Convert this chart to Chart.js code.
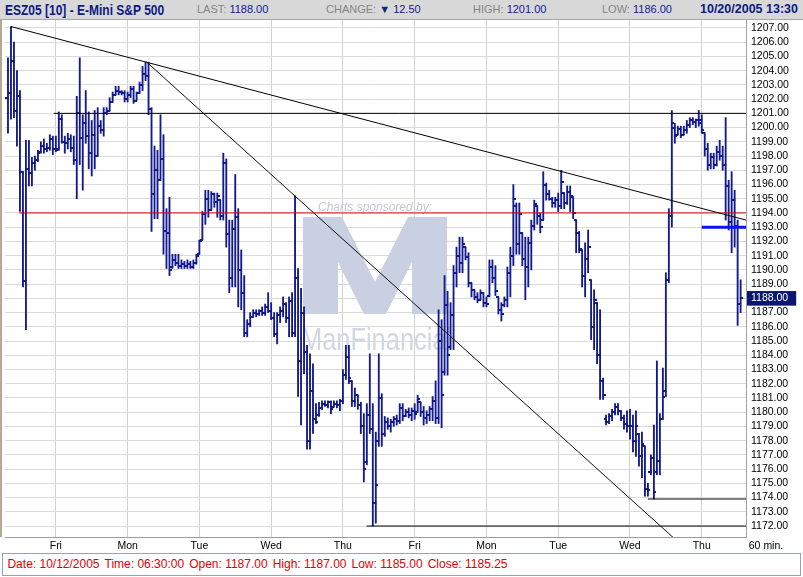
<!DOCTYPE html>
<html>
<head>
<meta charset="utf-8">
<script src="https://cdn.jsdelivr.net/npm/chart.js@4.4.0/dist/chart.umd.min.js"></script>
<style>
  html, body { margin: 0; padding: 0; background: #fff; }
  #wrap { position: relative; width: 803px; height: 577px; overflow: hidden; font-family: "Liberation Sans", Arial, sans-serif; }
  #c { position: absolute; left: 0; top: 0; }
  #hdr { position: absolute; left: 0; top: 0; width: 803px; height: 19px; background: #d8d8d8; border-bottom: 1px solid #a6a6a6; }
  #hdr span { position: absolute; top: 0; line-height: 19px; white-space: nowrap; font-size: 11px; }
  #hdr .ttl { font-size: 15px; font-weight: bold; color: #0c1a80; transform: scaleX(0.8); transform-origin: 0 50%; }
  #hdr .lbl { color: #858585; }
  #hdr .val { color: #14208a; }
  #hdr .dt { font-size: 12.5px; font-weight: bold; color: #0c1a80; }
  #lborder { position: absolute; left: 0; top: 20px; width: 2px; height: 517px; background: #b4aa94; }
  #mins { position: absolute; left: 745px; top: 539px; width: 42px; text-align: center; font-size: 10.5px; white-space: nowrap; }
  #foot { position: absolute; left: 2px; top: 553px; width: 797px; height: 21px; border: 1px solid #8fa3c2; background: #fff; }
  #foot span { color: #e30000; font-size: 12px; line-height: 21px; margin-right: 5px; }
</style>
</head>
<body>
<div id="wrap">
  <canvas id="c" width="803" height="577"></canvas>
  <div id="hdr">
    <span class="ttl" style="left:5px">ESZ05 [10] - E-Mini S&amp;P 500</span>
    <span style="left:197px"><span class="lbl" style="position:static">LAST: </span><span class="val" style="position:static">1188.00</span></span>
    <span style="left:326px"><span class="lbl" style="position:static">CHANGE: </span><span class="val" style="position:static">&#9660; 12.50</span></span>
    <span style="left:473px"><span class="lbl" style="position:static">HIGH: </span><span class="val" style="position:static">1201.00</span></span>
    <span style="left:602px"><span class="lbl" style="position:static">LOW: </span><span class="val" style="position:static">1186.00</span></span>
    <span class="dt" style="right:5px">10/20/2005 13:30</span>
  </div>
  <div id="lborder"></div>
  <div id="mins">60 min.</div>
  <div id="foot">&nbsp;<span>Date: 10/12/2005</span><span>Time: 06:30:00</span><span>Open: 1187.00</span><span>High: 1187.00</span><span>Low: 1185.00</span><span>Close: 1185.25</span></div>
</div>
<script>
// hourly bars, 10/6 (partial) .. 10/20 13:30
const dayLabels = ['Fri', 'Mon', 'Tue', 'Wed', 'Thu', 'Fri', 'Mon', 'Tue', 'Wed', 'Thu'];
const dayFirstBar = 16;
const barsPerDay = 24;

const opens = [
  1202.1,1202.4,1204.7,1201.2,1202.2,1196.9,1189.2,1197.1,1196.8,1197.5,1197.7,1198.3,1198.7,1198.5,1198.6,1199.2,
  1198.5,1198.5,1200.6,1199.0,1198.9,1199.2,1198.6,1197.7,1201.0,1199.3,1200.3,1199.4,1198.2,1199.5,1198.0,1200.1,1199.8,1201.0,1201.2,1201.8,1202.3,1202.6,1202.5,1202.4,
  1202.0,1202.3,1202.7,1201.9,1202.4,1203.0,1203.8,1203.6,1201.3,1195.3,1197.0,1196.3,1197.8,1192.7,1192.6,1190.2,1190.7,1190.5,1190.3,1190.4,1190.3,1190.4,1190.2,1190.5,
  1191.1,1192.1,1193.9,1195.0,1194.2,1195.3,1194.8,1194.9,1193.8,1197.5,1192.5,1189.4,1192.9,1193.7,1190.0,1188.4,1185.6,1186.2,1186.7,1187.0,1186.9,1187.1,1187.0,1187.4,
  1187.1,1186.6,1185.5,1186.8,1187.1,1187.6,1186.6,1187.8,1185.6,1189.4,1183.6,1187.0,1184.2,1178.0,1181.5,1179.5,1179.8,1180.3,1180.6,1180.5,1180.7,1180.4,1180.6,1180.5,
  1180.8,1182.6,1183.9,1182.2,1180.8,1181.2,1180.5,1179.0,1176.5,1179.8,1178.8,1173.6,1178.0,1181.0,1178.5,1179.3,1179.0,1179.3,1179.5,1179.4,1180.3,1179.7,1180.0,1179.8,
  1180.1,1180.0,1180.7,1180.0,1179.6,1179.8,1180.2,1180.8,1179.6,1185.0,1182.8,1187.5,1184.6,1186.8,1189.8,1191.0,1190.5,1191.6,1190.9,1189.1,1188.6,1188.1,1187.9,1188.4,
  1187.7,1188.2,1190.2,1189.4,1188.1,1187.2,1187.5,1187.9,1189.8,1191.0,1194.5,1191.8,1192.6,1190.8,1190.2,1191.9,1193.1,1194.5,1193.8,1193.5,1196.0,1195.3,1195.0,1194.7,
  1194.9,1194.5,1195.4,1194.7,1195.5,1195.1,1193.5,1192.6,1191.4,1189.6,1190.8,1189.3,1186.0,1187.7,1184.0,1182.2,1179.5,1179.3,1179.7,1180.0,1180.4,1180.1,1179.6,1179.2,
  1179.0,1179.0,1178.0,1178.5,1176.9,1177.6,1174.6,1175.8,1176.8,1175.8,1176.6,1179.5,1181.5,1189.3,1193.8,1200.0,1199.5,1199.9,1199.5,1199.8,1200.2,1200.5,1200.4,1200.5,
  1200.5,1199.6,1198.5,1197.4,1197.9,1197.4,1198.3,1198.0,1197.4,1195.9,1193.4,1194.9,1193.1,1187.6
];
const highs = [
  1204.9,1207.1,1206.0,1204.0,1202.6,1196.9,1199.1,1199.1,1197.9,1198.0,1198.4,1199.0,1199.2,1198.9,1199.5,1199.4,
  1199.4,1201.1,1200.9,1199.4,1199.6,1199.5,1199.4,1202.2,1204.9,1200.9,1202.6,1201.1,1200.5,1201.2,1201.4,1200.5,1201.4,1201.4,1202.1,1202.5,1202.9,1202.9,1202.6,1202.6,
  1202.5,1202.9,1202.9,1202.5,1203.2,1204.3,1204.6,1204.6,1201.4,1198.7,1198.4,1200.9,1199.5,1194.3,1195.1,1191.1,1191.1,1191.1,1190.7,1190.6,1190.7,1190.6,1190.7,1191.1,
  1192.1,1194.1,1195.6,1195.6,1195.5,1195.4,1195.4,1194.9,1198.2,1197.8,1193.5,1193.5,1196.7,1194.3,1191.4,1189.6,1186.5,1187.0,1187.2,1187.2,1187.2,1187.4,1187.6,1188.4,
  1187.7,1187.0,1187.0,1187.4,1188.1,1187.7,1188.1,1188.4,1195.2,1190.1,1188.7,1187.4,1184.7,1184.1,1183.4,1180.6,1180.7,1180.8,1180.8,1180.8,1180.8,1180.8,1180.8,1180.9,
  1183.0,1184.7,1184.7,1182.2,1181.7,1181.2,1180.7,1179.9,1180.6,1184.1,1180.6,1178.6,1184.1,1181.3,1179.7,1179.6,1179.5,1179.7,1179.8,1180.6,1180.6,1180.2,1180.3,1180.3,
  1180.6,1181.2,1180.7,1180.4,1180.1,1180.4,1181.1,1182.2,1187.2,1186.5,1189.6,1188.5,1187.7,1190.3,1191.6,1192.3,1192.3,1191.6,1191.2,1189.1,1188.6,1188.4,1188.6,1188.4,
  1188.1,1190.7,1190.7,1190.3,1188.1,1187.7,1188.1,1190.2,1191.6,1196.0,1194.7,1194.7,1192.6,1192.3,1192.3,1193.5,1194.9,1194.5,1194.0,1196.9,1196.1,1195.6,1195.1,1195.1,
  1195.4,1197.0,1195.4,1195.9,1195.9,1195.1,1193.5,1192.7,1191.4,1191.9,1192.8,1189.3,1188.6,1187.7,1187.2,1182.4,1179.8,1179.9,1180.2,1180.6,1180.6,1180.1,1179.8,1180.1,
  1180.2,1179.8,1180.1,1178.5,1178.6,1177.6,1175.0,1177.0,1179.1,1183.6,1179.9,1183.1,1189.8,1194.3,1201.2,1200.3,1200.1,1200.1,1200.1,1200.5,1200.7,1200.7,1200.6,1201.2,
  1200.9,1199.6,1198.9,1198.2,1198.2,1198.7,1199.1,1198.7,1200.7,1196.3,1196.9,1195.6,1193.5,1189.3
];
const lows = [
  1199.6,1200.6,1200.7,1198.7,1194.1,1188.8,1185.8,1195.9,1195.9,1197.0,1197.6,1198.2,1198.2,1198.3,1198.4,1198.1,
  1198.3,1198.4,1198.9,1198.2,1198.5,1198.3,1197.4,1195.0,1197.4,1195.6,1198.9,1197.1,1196.6,1197.1,1198.0,1199.6,1199.4,1200.9,1201.2,1201.8,1202.3,1202.3,1202.3,1201.8,
  1201.8,1202.1,1201.7,1201.9,1202.4,1202.6,1203.3,1200.9,1192.7,1193.6,1193.6,1196.3,1191.1,1190.1,1189.6,1190.1,1190.3,1190.1,1190.1,1190.1,1190.1,1190.1,1190.1,1190.4,
  1191.1,1192.1,1193.2,1193.7,1194.2,1194.4,1193.7,1193.5,1193.5,1191.6,1188.4,1188.8,1188.8,1187.4,1187.2,1185.3,1185.3,1186.0,1186.7,1186.7,1186.8,1186.8,1186.8,1187.0,
  1186.5,1185.3,1184.8,1186.3,1186.7,1186.3,1185.3,1185.3,1185.3,1181.1,1179.1,1182.7,1177.4,1177.4,1178.5,1179.2,1179.7,1180.2,1180.4,1180.3,1179.9,1180.4,1180.3,1180.1,
  1180.6,1182.3,1182.0,1180.4,1180.4,1180.2,1178.5,1175.1,1176.3,1178.5,1172.0,1172.2,1177.6,1177.6,1178.3,1178.8,1178.6,1179.0,1179.1,1179.2,1179.4,1179.7,1179.6,1179.4,
  1179.5,1180.0,1179.7,1179.1,1179.2,1179.4,1179.4,1179.2,1179.2,1178.9,1182.6,1182.6,1184.4,1184.4,1188.8,1189.8,1189.8,1190.7,1188.8,1188.1,1187.9,1187.7,1187.9,1187.4,
  1187.4,1188.1,1189.1,1188.2,1186.9,1186.4,1187.4,1187.4,1188.1,1190.3,1191.1,1191.1,1190.3,1187.9,1188.8,1190.0,1192.8,1193.2,1192.6,1193.5,1194.9,1194.9,1194.4,1194.4,
  1194.1,1194.3,1194.3,1194.6,1194.1,1193.6,1191.2,1191.2,1188.8,1188.1,1189.8,1185.1,1184.4,1183.4,1180.9,1180.9,1179.1,1179.2,1179.4,1179.8,1179.8,1179.4,1178.8,1178.6,
  1178.1,1177.2,1176.9,1176.2,1175.4,1174.1,1174.1,1175.6,1173.9,1175.6,1175.6,1179.5,1181.1,1189.1,1193.0,1198.9,1199.5,1199.3,1199.5,1199.6,1200.0,1200.2,1200.0,1200.1,
  1199.6,1198.0,1197.0,1197.1,1197.1,1197.3,1197.7,1197.0,1193.5,1192.8,1191.2,1191.6,1186.1,1187.0
];
const closes = [
  1202.4,1204.7,1201.2,1202.2,1196.9,1189.2,1197.1,1196.8,1197.5,1197.7,1198.2,1198.7,1198.5,1198.6,1199.2,1198.5,
  1198.4,1200.6,1199.0,1198.9,1199.2,1198.6,1197.7,1201.0,1199.3,1200.3,1199.4,1198.2,1199.5,1198.0,1200.1,1199.8,1201.0,1201.2,1201.8,1202.3,1202.6,1202.5,1202.4,1202.0,
  1202.3,1202.7,1201.9,1202.4,1203.0,1203.8,1203.6,1201.3,1195.3,1197.0,1196.3,1197.8,1192.7,1192.6,1190.0,1190.7,1190.5,1190.3,1190.4,1190.3,1190.4,1190.2,1190.5,1191.0,
  1192.0,1193.9,1195.0,1194.2,1195.3,1194.8,1195.2,1193.8,1197.5,1192.5,1189.4,1192.9,1193.7,1190.0,1188.4,1185.6,1186.2,1186.7,1187.0,1186.9,1187.1,1187.0,1187.4,1187.1,
  1186.6,1185.5,1186.8,1187.1,1187.6,1186.6,1187.8,1185.6,1189.4,1183.6,1187.0,1184.2,1178.0,1181.5,1179.5,1179.3,1180.3,1180.6,1180.5,1180.7,1180.2,1180.6,1180.5,1180.8,
  1182.6,1183.9,1182.4,1180.8,1181.2,1180.5,1179.0,1176.0,1179.8,1178.8,1173.6,1174.9,1181.0,1178.5,1179.3,1179.0,1179.3,1179.5,1179.4,1180.3,1179.7,1180.0,1179.8,1180.1,
  1179.9,1180.9,1180.0,1179.6,1179.8,1180.2,1180.8,1179.6,1185.0,1181.2,1187.5,1184.0,1186.8,1189.8,1191.0,1190.5,1191.8,1190.9,1189.1,1188.6,1188.1,1187.9,1188.4,1187.7,
  1187.6,1190.2,1189.4,1188.5,1187.2,1186.9,1187.9,1189.8,1191.0,1195.0,1191.8,1193.9,1190.8,1190.2,1191.9,1193.1,1194.6,1193.8,1193.0,1196.0,1195.3,1195.0,1194.7,1194.9,
  1194.5,1196.2,1194.7,1195.5,1195.2,1194.0,1192.6,1191.5,1189.6,1190.8,1191.6,1186.0,1187.9,1184.0,1182.2,1181.2,1179.3,1179.7,1180.0,1180.4,1180.1,1179.6,1179.2,1179.0,
  1179.0,1178.0,1179.0,1176.9,1177.8,1174.6,1174.5,1176.8,1174.4,1176.6,1179.5,1181.1,1189.3,1193.8,1200.3,1199.4,1199.9,1199.5,1199.8,1200.2,1200.5,1200.4,1200.5,1200.3,
  1199.8,1198.5,1197.4,1197.9,1197.4,1198.3,1198.0,1197.4,1195.9,1193.4,1194.9,1193.1,1187.6,1188.0
];

// drawn lines: [x1, y1, x2, y2] in bar index / price
const trendLong = [1, 1207.1, 246.8, 1193.5];
const trendSteep = [46.4, 1204.6, 224, 1170.9];
const level1201 = [15.3, 1201, 246.8, 1201];
const level1194 = [3.7, 1194, 246.8, 1194];
const level1174 = [214, 1173.9, 246.8, 1173.9];
const level1172 = [119.9, 1172, 246.8, 1172];
const level1193 = [232, 1193, 246.8, 1193];
const lastPrice = 1188;

const NAVY = '#131a8e';

function tickImg(side) {
  const c = document.createElement('canvas');
  c.width = 5; c.height = 2;
  const g = c.getContext('2d');
  g.fillStyle = NAVY;
  if (side === 'L') g.fillRect(0, 0, 3, 2); else g.fillRect(2, 0, 3, 2);
  return c;
}

function seg(s, color, width) {
  return {
    type: 'line',
    data: [{x: s[0], y: s[1]}, {x: s[2], y: s[3]}],
    borderColor: color,
    borderWidth: width,
    pointRadius: 0,
    fill: false,
    order: 0
  };
}

const watermark = {
  id: 'watermark',
  beforeDatasetsDraw(chart) {
    const g = chart.ctx;
    g.save();
    g.fillStyle = '#c2c9d8';
    g.font = 'italic 12px "Liberation Sans", Arial';
    g.fillText('Charts sponsored by:', 318, 211);
    g.fillStyle = '#c9d0e1';
    g.beginPath();
    g.moveTo(303, 217); g.lineTo(342, 217); g.lineTo(375, 282); g.lineTo(408, 217);
    g.lineTo(447, 217); g.lineTo(447, 314); g.lineTo(412, 314); g.lineTo(412, 262);
    g.lineTo(386, 314); g.lineTo(364, 314); g.lineTo(338, 262); g.lineTo(338, 314);
    g.lineTo(303, 314); g.closePath();
    g.fill();
    g.fillStyle = '#d2d7e4';
    g.font = '31px "Liberation Sans", Arial';
    g.translate(301, 350);
    g.scale(0.82, 1);
    g.fillText('ManFinancial', 0, 0);
    g.restore();
  }
};

new Chart(document.getElementById('c'), {
  type: 'bar',
  data: {
    datasets: [
      seg(trendLong, '#000', 1),
      seg(trendSteep, '#111', 1),
      seg(level1201, '#000', 1),
      seg(level1194, '#e00000', 1),
      seg(level1174, '#000', 1),
      seg(level1172, '#000', 1),
      seg(level1193, '#0a14f0', 3),
      {
        type: 'bar',
        data: highs.map((h, i) => ({x: i, y: [lows[i], h]})),
        backgroundColor: NAVY,
        barThickness: 1.2,
        grouped: false,
        order: 5
      },
      {
        type: 'line',
        showLine: false,
        data: opens.map((v, i) => ({x: i, y: v})),
        pointStyle: tickImg('L'),
        pointRadius: 2,
        order: 4
      },
      {
        type: 'line',
        showLine: false,
        data: closes.map((v, i) => ({x: i, y: v})),
        pointStyle: tickImg('R'),
        pointRadius: 2,
        order: 4
      }
    ]
  },
  options: {
    responsive: false,
    animation: false,
    events: [],
    layout: {padding: {left: 2, top: 20, right: 0, bottom: 20}},
    plugins: {legend: {display: false}, tooltip: {enabled: false}},
    scales: {
      x: {
        type: 'linear',
        offset: false,
        min: -1,
        max: 246.8,
        afterBuildTicks: s => { s.ticks = dayLabels.map((d, k) => ({value: dayFirstBar + k * barsPerDay})); },
        afterFit: s => { s.height = 20; },
        ticks: {
          callback: (v, idx) => dayLabels[idx],
          font: {size: 10.5, family: '"Liberation Sans", Arial'},
          color: '#000',
          padding: 3,
          maxRotation: 0,
          autoSkip: false
        },
        grid: {color: '#d2d2d2', drawTicks: false, offset: false},
        border: {color: '#9c9c9c'}
      },
      y: {
        type: 'linear',
        position: 'right',
        min: 1171.23,
        max: 1207.56,
        afterBuildTicks: s => {
          const t = [];
          for (let v = 1172; v <= 1207; v++) t.push({value: v});
          s.ticks = t;
        },
        afterFit: s => { s.width = 57; },
        ticks: {
          autoSkip: false,
          callback: v => v.toFixed(2),
          font: {size: 10.5, family: '"Liberation Sans", Arial'},
          color: c => (c.tick && c.tick.value === lastPrice) ? '#fff' : '#000',
          showLabelBackdrop: c => !!(c.tick && c.tick.value === lastPrice),
          backdropColor: '#0b1670',
          backdropPadding: {top: 1, bottom: 1, left: 4, right: 8},
          padding: 5
        },
        grid: {color: '#dadada', drawTicks: false},
        border: {color: '#a0a0a0'}
      }
    }
  },
  plugins: [watermark]
});
</script>
</body>
</html>
